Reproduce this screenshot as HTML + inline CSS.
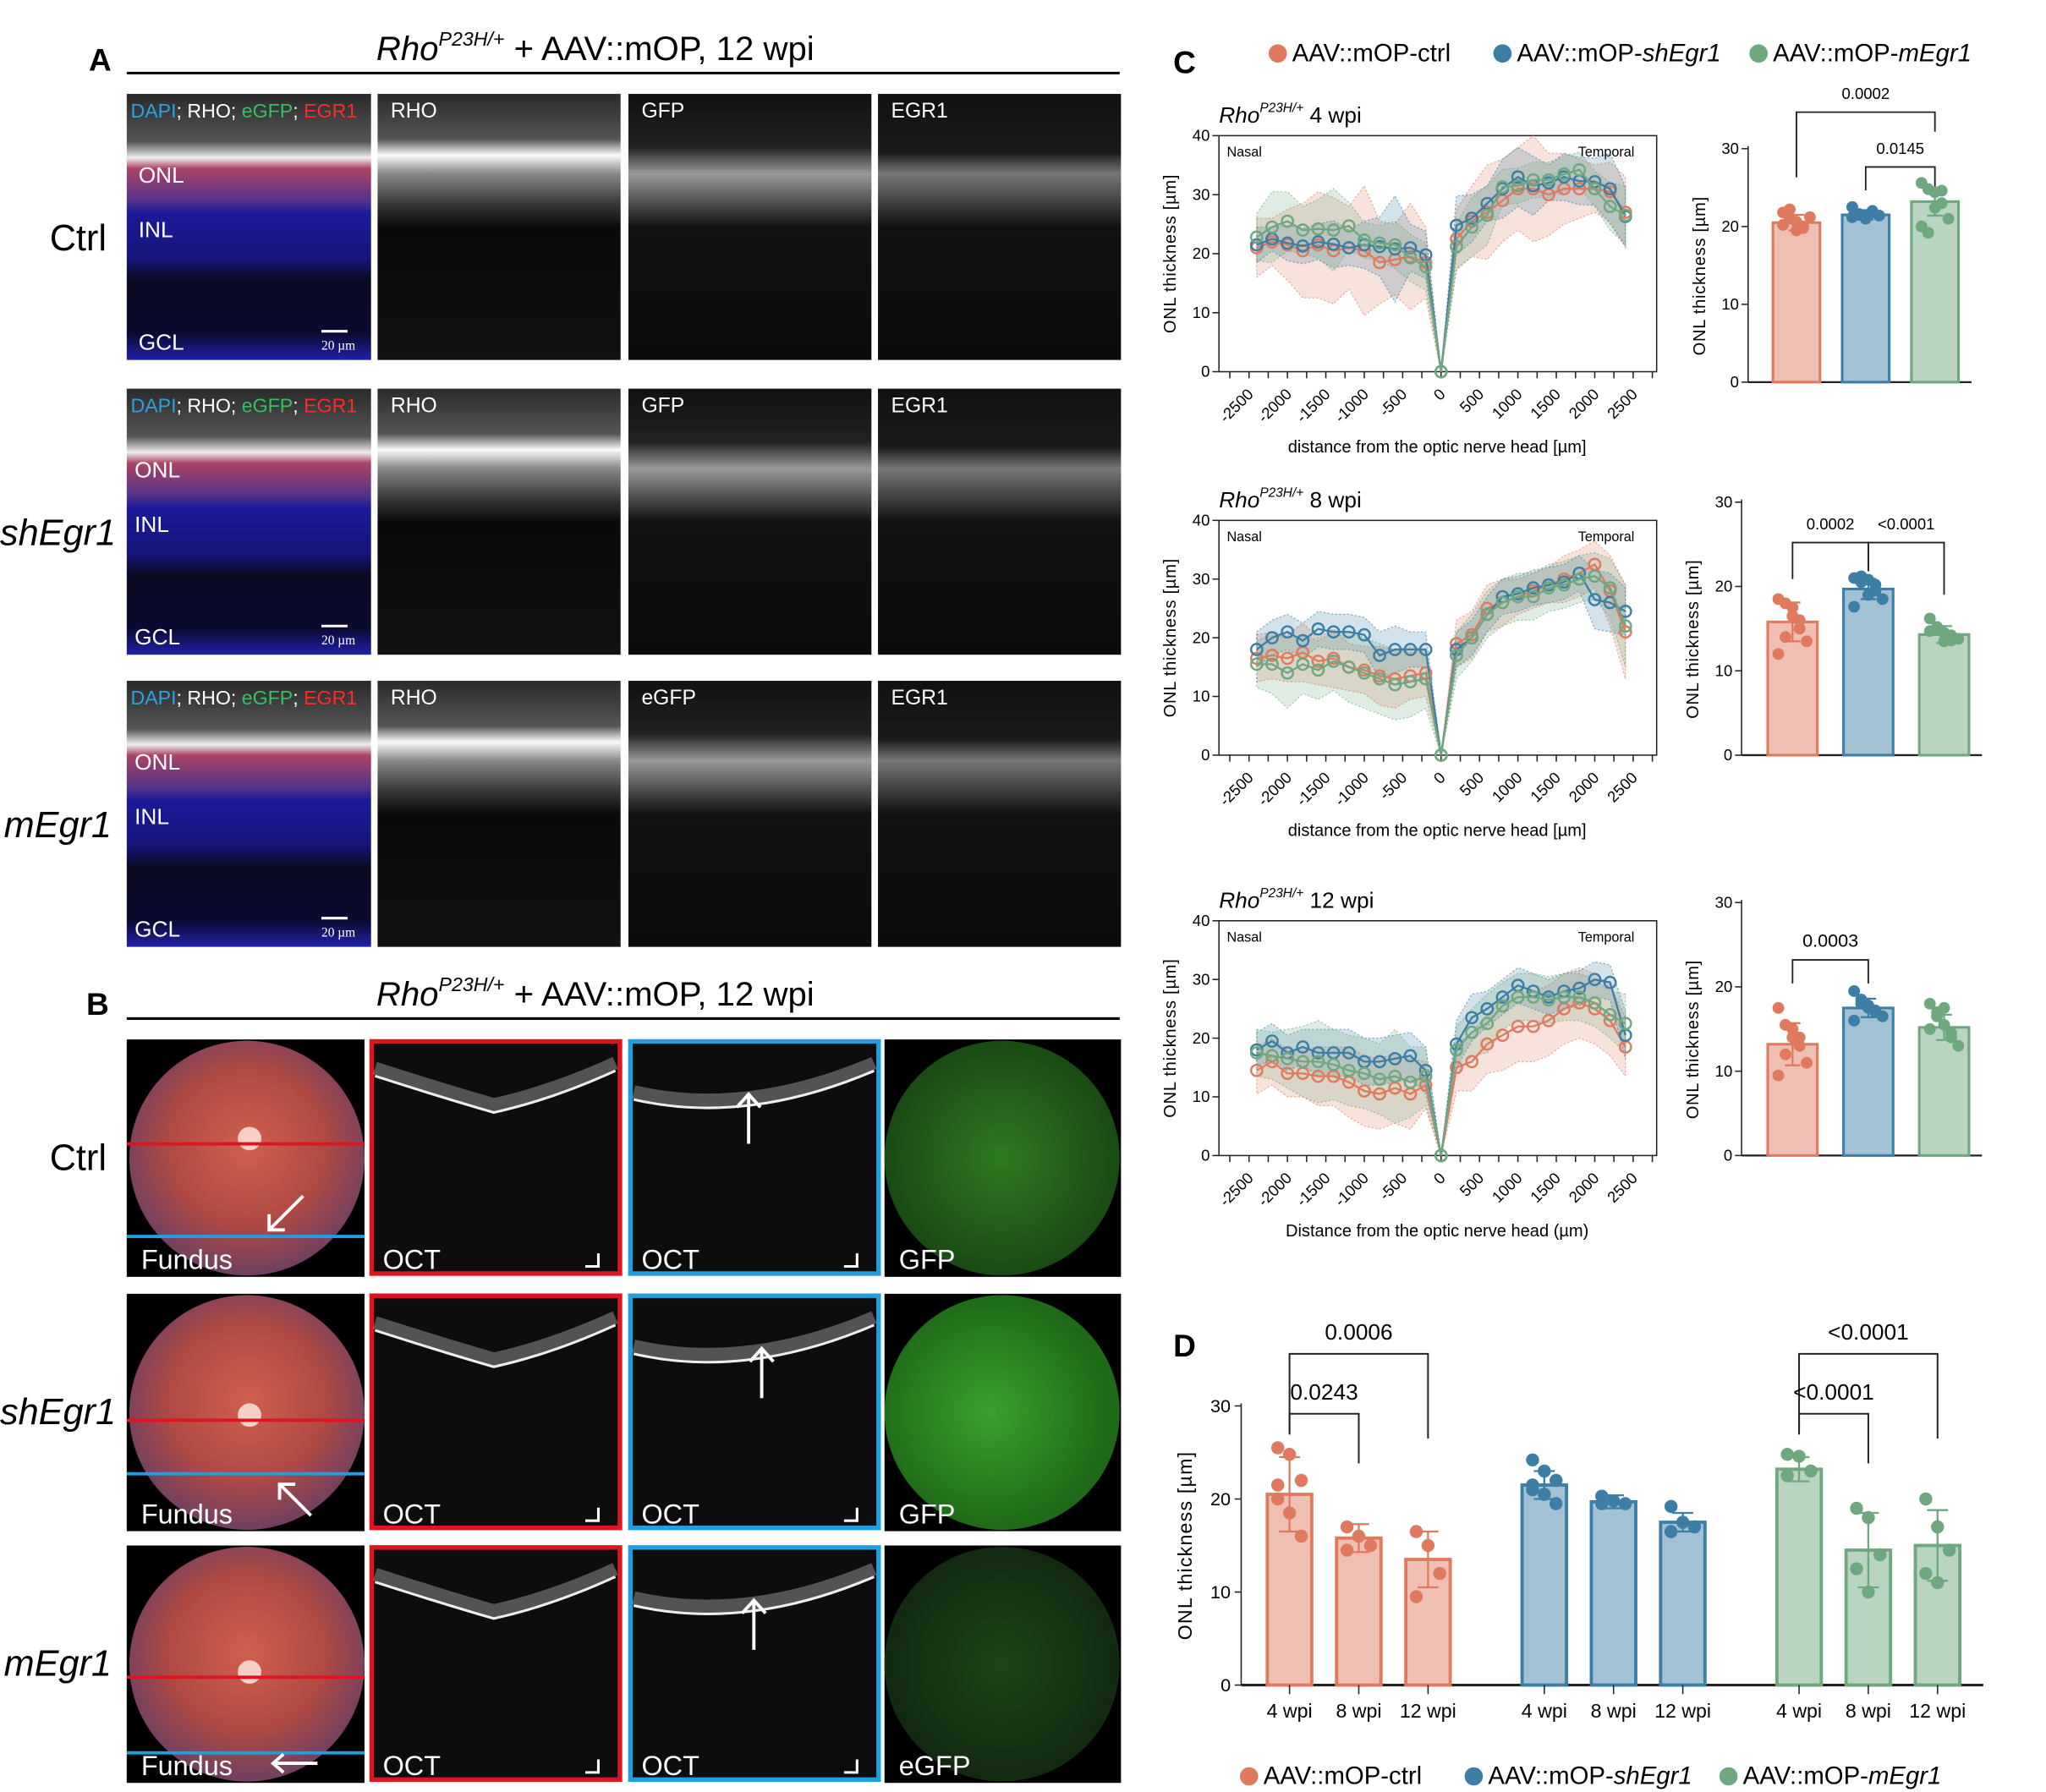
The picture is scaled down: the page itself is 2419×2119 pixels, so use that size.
<!DOCTYPE html>
<html><head><meta charset="utf-8"><style>
html,body{margin:0;padding:0;background:#fff;}
svg{display:block;font-family:"Liberation Sans",sans-serif;}
</style></head><body>
<svg id="fig" width="2419" height="2119" viewBox="0 0 1566 1374" preserveAspectRatio="none" xmlns="http://www.w3.org/2000/svg">
<defs>
<radialGradient id="fund" cx="0.5" cy="0.45" r="0.55"><stop offset="0" stop-color="#d0604e"/><stop offset="0.6" stop-color="#b04a44"/><stop offset="1" stop-color="#704060"/></radialGradient>
<radialGradient id="gfp1" cx="0.5" cy="0.5" r="0.5"><stop offset="0" stop-color="#2f7a22"/><stop offset="1" stop-color="#1a4a14"/></radialGradient>
<radialGradient id="gfp2" cx="0.45" cy="0.5" r="0.5"><stop offset="0" stop-color="#3aa02e"/><stop offset="1" stop-color="#1f6a18"/></radialGradient>
<radialGradient id="gfp3" cx="0.5" cy="0.5" r="0.5"><stop offset="0" stop-color="#1e4418"/><stop offset="1" stop-color="#122a10"/></radialGradient>
<linearGradient id="comp" x1="0" y1="0" x2="0" y2="1"><stop offset="0" stop-color="#2a2a2a"/><stop offset="0.18" stop-color="#555"/><stop offset="0.24" stop-color="#eee"/><stop offset="0.28" stop-color="#aa4466"/><stop offset="0.4" stop-color="#553388"/><stop offset="0.45" stop-color="#1a1a99"/><stop offset="0.62" stop-color="#15157a"/><stop offset="0.7" stop-color="#0a0a22"/><stop offset="0.9" stop-color="#0a0a30"/><stop offset="1" stop-color="#2020aa"/></linearGradient>
<linearGradient id="rho" x1="0" y1="0" x2="0" y2="1"><stop offset="0" stop-color="#2a2a2a"/><stop offset="0.17" stop-color="#555"/><stop offset="0.23" stop-color="#fafafa"/><stop offset="0.3" stop-color="#888"/><stop offset="0.42" stop-color="#333"/><stop offset="0.5" stop-color="#0a0a0a"/><stop offset="1" stop-color="#111"/></linearGradient>
<linearGradient id="gfpA" x1="0" y1="0" x2="0" y2="1"><stop offset="0" stop-color="#111"/><stop offset="0.2" stop-color="#222"/><stop offset="0.3" stop-color="#999"/><stop offset="0.4" stop-color="#555"/><stop offset="0.5" stop-color="#111"/><stop offset="1" stop-color="#0c0c0c"/></linearGradient>
<linearGradient id="egr" x1="0" y1="0" x2="0" y2="1"><stop offset="0" stop-color="#111"/><stop offset="0.22" stop-color="#1a1a1a"/><stop offset="0.3" stop-color="#777"/><stop offset="0.4" stop-color="#444"/><stop offset="0.5" stop-color="#111"/><stop offset="1" stop-color="#0c0c0c"/></linearGradient>
</defs>
<g id="panelA"></g>
<g id="panelB"></g>
<g id="panelC"></g>
<g id="panelD"></g>
</svg>
<script>
// ---------- DATA ----------
const xPositions = [-2400,-2200,-2000,-1800,-1600,-1400,-1200,-1000,-800,-600,-400,-200,0,200,400,600,800,1000,1200,1400,1600,1800,2000,2200,2400];
const xTickLabels = [-2500,-2000,-1500,-1000,-500,0,500,1000,1500,2000,2500];
const yTickLine = [0,10,20,30,40];
const yTickBar = [0,10,20,30];
// 4 wpi
const ctrl4 = [21,22,21.5,20.5,21.5,20.5,21,20.5,18.5,19,19.5,18.5,0,22.5,25.5,27,29,31,31,30,31,31,31,30.5,27];
const sh4 = [21.5,22.5,21.8,21.3,22,21.6,21,21.5,21.2,20.8,21,19.8,0,24.8,26,28.5,31,33,31.5,32,33,32.3,32.2,31,26.3];
const m4 = [22.8,24.5,25.5,24,24.2,24,24.7,22.3,21.8,21.5,19.3,17.8,0,21.2,24.5,26.5,31.3,31.5,32.5,32.5,33.5,34.2,31,28,26.5];
const ctrl4sd = [5,4,6,8,9,9,7,11,7,6,9,6,0,5,6,8,7,7,9,7,6,5,4,5,6];
const sh4sd = [3,2,3,3,3,4,3,4,5,9,4,4,0,5,4,3,5,5,5,3,4,4,4,6,5];
const m4sd = [4,6,5,4,5,7,4,3,3,4,4,4,0,4,5,5,3,3,3,3,3,3,3,4,5];
// 8 wpi
const ctrl8 = [16.5,17,16.5,17.5,16,16.5,15,14.5,13.5,13,13.5,14,0,19,20.5,25,26,27,28,29,30,31,32.5,28,21];
const sh8 = [18,20,21,19.5,21.5,21,21,20.5,17,18,18,18,0,18,20,24,27,27.5,28.5,29,29.5,31,26.5,26,24.5];
const m8 = [15.5,15.5,14,15.5,14.5,16,15,14,13,12,12.5,13,0,17,20,24,26,27,27,28.5,29,30,30.5,28.5,22];
const ctrl8sd = [4,4,4,5,4,5,4,4,5,5,4,4,0,4,4,4,4,3,3,3,4,4,4,6,8];
const sh8sd = [3,3,3,3,3,3,3,3,4,4,3,3,0,3,3,3,3,3,3,3,3,3,5,5,4];
const m8sd = [4,5,6,5,5,5,6,6,6,6,6,5,0,4,4,4,4,4,4,4,4,4,4,5,7];
// 12 wpi
const ctrl12 = [14.5,16,14,14,13.5,13.5,12.5,11,10.5,11.5,10.5,12,0,15,16,19,20.5,22,22,23,25,26,25,23,18.5];
const sh12 = [18,19.5,17.5,18.5,17.5,17.5,17.5,16,16,16.5,17,14.5,0,19,23.5,25,27,29,28,27,28,28.5,30,29.5,20.5];
const m12 = [17.5,17,16.5,16,16,15.5,14.5,14,13,13.5,12.5,13.5,0,18,21,22.5,25.5,27,27,26.5,27,27,26,24,22.5];
const ctrl12sd = [4,4,4,4,5,5,6,6,6,6,6,4,0,4,5,5,6,6,6,6,6,6,6,6,5];
const sh12sd = [3,3,3,3,4,4,4,4,4,4,4,4,0,4,4,3,3,3,3,3,3,3,3,3,4];
const m12sd = [4,4,5,6,7,6,6,6,6,8,6,5,0,4,4,5,4,4,4,4,4,4,4,4,5];
// bar means
const bar4 = [20.5,21.5,23.2];
const bar8 = [15.8,19.7,14.3];
const bar12 = [13.2,17.5,15.2];
const dots4 = [[20.2,21,19.5,19.8,21.2,21.8,22.2,20.6,20],[22.5,21.5,21.3,22,21.4,21.2,21.6,21,21.8],[25.6,24.8,24.4,23,21,20,19.2,22.4,24.6]];
const dots8 = [[18.5,18,16.5,15,13.5,12,14,17.5,16],[21,20.5,20.8,19.5,18.5,17.6,21.2,19,20.2],[16.2,15,14.5,13.6,13.8,14.7,15.2,13.5,14.2]];
const dots12 = [[17.5,15.5,14,13,11,9.5,12,15,14],[19.5,18.5,17.5,17,16.5,16,18,17.8,17.2],[18,17,15.5,14,13,15,16.5,17.5,14.5]];
const sd4 = [1,0.6,1.8];
const sd8 = [2.3,1.2,1];
const sd12 = [2.5,1.1,1.5];
// panel D
const dGroups = ['4 wpi','8 wpi','12 wpi'];
const dCtrl = [20.5,15.8,13.5];
const dSh = [21.5,19.7,17.5];
const dM = [23.2,14.5,15];
const dCtrlSd = [4,1.5,3];
const dShSd = [1.5,0.7,1];
const dMSd = [1.3,4,3.8];
const dCtrlDots = [[25.5,24.8,22,20,18.5,16,21.5],[17,16,15,14.5],[16.5,15,12,9.5]];
const dShDots = [[24.2,23,22,21.5,20.5,19.5,21],[20.3,19.8,19.5,19.5],[19.2,17.5,17,16.5]];
const dMDots = [[24.8,24.6,23,22.5],[19,18,14,12.5,10],[20,17,14.5,12,11]];

const COL = {ctrl:'#e07a5f', sh:'#3d7ea6', m:'#6fa77f'};
const FILL = {ctrl:'#efbfb3', sh:'#a3c1d4', m:'#b9d5c0'};
const NS = 'http://www.w3.org/2000/svg';
function mk(tag, attrs, parent){const e=document.createElementNS(NS,tag);for(const k in attrs)e.setAttribute(k,attrs[k]);parent.appendChild(e);return e;}
function txt(parent,x,y,s,size,opts){const e=mk('text',Object.assign({x:x,y:y,'font-size':size},opts||{}),parent);e.textContent=s;return e;}

// ---------- PANEL A ----------
const A = document.getElementById('panelA');
let t = txt(A,68,54,'A',24,{'font-weight':'bold'});


t = mk('text',{x:288,y:46,'font-size':26},A);
t.innerHTML='<tspan font-style="italic">Rho</tspan><tspan font-style="italic" font-size="15" dy="-11">P23H/+</tspan><tspan dy="11"> + AAV::mOP, 12 wpi</tspan>';


let ln = mk('line',{x1:97,x2:857,y1:56,y2:56,stroke:'#000','stroke-width':2},A);


const rowsA = [72,298,522];
const rowNames = ['Ctrl','shEgr1','mEgr1'];
const colsA = [[97,187],[289,186],[481,186],[672,186]];
const heads = [['RHO','GFP','EGR1'],['RHO','GFP','EGR1'],['RHO','eGFP','EGR1']];
const grads = ['comp','rho','gfpA','egr'];
rowsA.forEach((y,ri)=>{
  const lbl = txt(A,ri===0?38:(ri===1?0:3),y+120,rowNames[ri],28,{'font-style':ri===0?'normal':'italic'});
  
  
  colsA.forEach((c,ci)=>{
    const r = mk('rect',{x:c[0],y:y,width:c[1],height:204,fill:'url(#'+grads[ci]+')'},A);
    
    
    if(ci>0){
      const h = txt(A,c[0]+10,y+18,heads[ri][ci-1],16,{fill:'#fff'});
      
      
    }
  });
  const cl = mk('text',{x:100,y:y+18,'font-size':15},A);
  cl.innerHTML='<tspan fill="#29a3e0">DAPI</tspan><tspan fill="#fff">; RHO; </tspan><tspan fill="#33c060">eGFP</tspan><tspan fill="#fff">; </tspan><tspan fill="#ff2a2a">EGR1</tspan>';
  
  
  [['ONL',68],['INL',110],['GCL',196]].forEach(l=>{
    const e = txt(A,ri===0?106:103,y+l[1],l[0],17,{fill:'#fff'});
    
    
  });
  const sb = mk('line',{x1:246,x2:266,y1:y+182,y2:y+182,stroke:'#fff','stroke-width':2},A);
  
  
  const st = txt(A,246,y+196,'20 µm',10,{fill:'#fff','font-family':'Liberation Serif'});
  
  
});

// ---------- PANEL B ----------
const B = document.getElementById('panelB');
t = txt(B,66,778,'B',24,{'font-weight':'bold'});


t = mk('text',{x:288,y:771,'font-size':26},B);
t.innerHTML='<tspan font-style="italic">Rho</tspan><tspan font-style="italic" font-size="15" dy="-11">P23H/+</tspan><tspan dy="11"> + AAV::mOP, 12 wpi</tspan>';


ln = mk('line',{x1:97,x2:857,y1:781,y2:781,stroke:'#000','stroke-width':2},B);


const rowsB = [797,992,1185];
const redL = [877,1089,1286];
const blueL = [948,1130,1344];
const gfpL = ['GFP','GFP','eGFP'];
rowsB.forEach((y,ri)=>{
  const lbl = txt(B,ri===0?38:(ri===1?0:3),y+100,rowNames[ri],28,{'font-style':ri===0?'normal':'italic'});
  
  
  let e = mk('rect',{x:97,y:y,width:182,height:182,fill:'#000'},B);
  
  
  e = mk('circle',{cx:189,cy:y+91,r:90,fill:'url(#fund)'},B);
  
  
  e = mk('circle',{cx:191,cy:redL[ri]-4,r:9,fill:'#f6d0c8'},B);
  
  
  e = mk('line',{x1:97,x2:279,y1:redL[ri],y2:redL[ri],stroke:'#e0141e','stroke-width':2.5},B);
  
  
  e = mk('line',{x1:97,x2:279,y1:blueL[ri],y2:blueL[ri],stroke:'#1ea0e0','stroke-width':2.5},B);
  
  
  e = mk('path',{d:ri===2?`M243 ${y+167} h-34 m8 -7 l-8 7 l8 7`:(ri===0?`M232 ${y+120} l-26 26 m0 -12 v12 h12`:`M238 ${y+170} l-24 -24 m0 12 v-12 h12`),stroke:'#fff','stroke-width':2.5,fill:'none'},B);
  
  
  e = txt(B,108,y+176,'Fundus',21,{fill:'#fff'});
  
  
  [[283,'#e0141e'],[481,'#1ea0e0']].forEach((o,oi)=>{
    let r = mk('rect',{x:o[0]+1.5,y:y+1.5,width:190,height:178,fill:'#0d0d0d',stroke:o[1],'stroke-width':3.5},B);
    
    
    const p = oi===0?`M${o[0]+4} ${y+22} Q${o[0]+60} ${y+40} ${o[0]+95} ${y+50} Q${o[0]+140} ${y+40} ${o[0]+188} ${y+18}`:`M${o[0]+4} ${y+40} Q${o[0]+90} ${y+60} ${o[0]+188} ${y+18}`;
    let b = mk('path',{d:p,stroke:'#999','stroke-width':10,fill:'none',opacity:0.5},B);
    
    
    b = mk('path',{d:p,stroke:'#eee','stroke-width':2,fill:'none',transform:'translate(0,6)'},B);
    
    
    if(oi===1){
      const ax = ri===0?573:(ri===1?583:577);
      b = mk('path',{d:`M${ax} ${y+80} v-38 m-9 10 l9 -10 l9 10`,stroke:'#fff','stroke-width':2.5,fill:'none'},B);
      
      
    }
    b = txt(B,o[0]+10,y+176,'OCT',21,{fill:'#fff'});
    
    
    b = mk('path',{d:`M${o[0]+175} ${y+164} v10 h-10`,stroke:'#fff','stroke-width':2,fill:'none'},B);
    
    
  });
  e = mk('rect',{x:677,y:y,width:181,height:182,fill:'#000'},B);
  
  
  e = mk('circle',{cx:767,cy:y+91,r:90,fill:'url(#gfp'+(ri+1)+')'},B);
  
  
  e = txt(B,688,y+176,gfpL[ri],21,{fill:'#fff'});
  
  
});

// ---------- PANEL C ----------
const C = document.getElementById('panelC');
t = txt(C,898,56,'C',24,{'font-weight':'bold'});


function legend(parent,y,xs){
  const names=[['ctrl','AAV::mOP-','ctrl',false],['sh','AAV::mOP-','shEgr1',true],['m','AAV::mOP-','mEgr1',true]];
  names.forEach((n,i)=>{
    const c = mk('circle',{cx:xs[i],cy:y-6,r:7,fill:COL[n[0]]},parent);
    
    
    const tt = mk('text',{x:xs[i]+11,y:y,'font-size':19},parent);
    tt.innerHTML=n[1]+'<tspan font-style="'+(n[3]?'italic':'normal')+'">'+n[2]+'</tspan>';
    
    
  });
}
legend(C,47,[978,1150,1346]);

function lineChart(g,top,bot,title,series,xtitle){
  const L=933,R=1268;
  const xs=v=>956+(v+2500)*(1250-956)/5000;
  const ys=v=>bot-(v/40)*(bot-top);
  let e = mk('rect',{x:L,y:top,width:R-L,height:bot-top,fill:'none',stroke:'#222','stroke-width':1},g);
  
  
  e = mk('text',{x:933,y:top-10,'font-size':17},g);
  e.innerHTML='<tspan font-style="italic">Rho</tspan><tspan font-style="italic" font-size="10" dy="-8">P23H/+</tspan><tspan dy="8"> '+title+'</tspan>';
  
  
  e = txt(g,939,top+16,'Nasal',10.5);
  
  
  e = txt(g,1251,top+16,'Temporal',10.5,{'text-anchor':'end'});
  
  
  yTickLine.forEach(v=>{
    const tk=mk('line',{x1:L-5,x2:L,y1:ys(v),y2:ys(v),stroke:'#222'},g);
    
    
    const tl=txt(g,L-7,ys(v)+4,String(v),12,{'text-anchor':'end'});
    
    
  });
  for(let v=-2750;v<=2750;v+=250){
    const tk=mk('line',{x1:xs(v),x2:xs(v),y1:bot,y2:bot+5,stroke:'#222'},g);
    
    
  }
  xTickLabels.forEach(v=>{
    const tl=txt(g,xs(v)+4,bot+18,String(v),12,{'text-anchor':'end',transform:`rotate(-45 ${xs(v)+4} ${bot+18})`});
    
    
  });
  e = txt(g,0,0,'ONL thickness [µm]',13,{'text-anchor':'middle',transform:`translate(900 ${(top+bot)/2}) rotate(-90)`,'letter-spacing':'0.5'});
  
  
  e = txt(g,1100,bot+62,xtitle,13,{'text-anchor':'middle'});
  
  
  series.forEach(s=>{
    const up=xPositions.map((x,i)=>xs(x)+','+ys(s.v[i]+s.sd[i]));
    const dn=xPositions.map((x,i)=>xs(x)+','+ys(Math.max(0,s.v[i]-s.sd[i]))).reverse();
    const band=mk('polygon',{points:up.concat(dn).join(' '),fill:COL[s.k],'fill-opacity':0.22,stroke:COL[s.k],'stroke-opacity':0.6,'stroke-dasharray':'1.5 1.5','stroke-width':0.8},g);
    
    
  });
  series.forEach(s=>{
    const pl=mk('polyline',{points:xPositions.map((x,i)=>xs(x)+','+ys(s.v[i])).join(' '),fill:'none',stroke:COL[s.k],'stroke-width':1.5},g);
    
    
    xPositions.forEach((x,i)=>{
      const c=mk('circle',{cx:xs(x),cy:ys(s.v[i]),r:4.3,fill:'none',stroke:COL[s.k],'stroke-width':1.6},g);
      
      
    });
  });
}
function barChart(g,axX,y0,y30,centers,w,means,dots,sds,brackets){
  const ys=v=>y0-(v/30)*(y0-y30);
  const keys=['ctrl','sh','m'];
  let e=mk('line',{x1:axX,x2:axX,y1:y30-2,y2:y0,stroke:'#222'},g);
  
  
  e=mk('line',{x1:axX,x2:centers[2]+w/2+10,y1:y0,y2:y0,stroke:'#222','stroke-width':1.5},g);
  
  
  yTickBar.forEach(v=>{
    const tk=mk('line',{x1:axX-5,x2:axX,y1:ys(v),y2:ys(v),stroke:'#222'},g);
    
    
    const tl=txt(g,axX-7,ys(v)+4,String(v),12,{'text-anchor':'end'});
    
    
  });
  e=txt(g,0,0,'ONL thickness [µm]',13,{'text-anchor':'middle',transform:`translate(${axX-33} ${(y0+y30)/2+8}) rotate(-90)`,'letter-spacing':'0.5'});
  
  
  means.forEach((m,i)=>{
    const k=keys[i];
    const r=mk('rect',{x:centers[i]-w/2,y:ys(m),width:w,height:y0-ys(m),fill:FILL[k],stroke:COL[k],'stroke-width':2},g);
    
    
    const eb=mk('path',{d:`M${centers[i]} ${ys(m+sds[i])} V${ys(m-sds[i])} M${centers[i]-6} ${ys(m+sds[i])} h12 M${centers[i]-6} ${ys(m-sds[i])} h12`,stroke:COL[k],'stroke-width':1.5,fill:'none'},g);
    
    
    dots[i].forEach((d,j)=>{
      const c=mk('circle',{cx:centers[i]+((j%5)-2)*(w/7),cy:ys(d),r:4.5,fill:COL[k]},g);
      
      
    });
  });
  brackets.forEach(b=>{
    const p=mk('path',{d:`M${centers[b[0]]} ${b[2]+b[3]} V${b[2]} H${centers[b[1]]} V${b[2]+b[4]}`,stroke:'#222','stroke-width':1.2,fill:'none'},g);
    
    
    const tl=txt(g,(centers[b[0]]+centers[b[1]])/2,b[2]-10,b[5],b[6]||12,{'text-anchor':'middle'});
    
    
  });
}
const g1=mk('g',{},C);


lineChart(g1,104,285,'4 wpi',[{k:'ctrl',v:ctrl4,sd:ctrl4sd},{k:'sh',v:sh4,sd:sh4sd},{k:'m',v:m4,sd:m4sd}],'distance from the optic nerve head [µm]');
const g2=mk('g',{},C);


lineChart(g2,399,579,'8 wpi',[{k:'ctrl',v:ctrl8,sd:ctrl8sd},{k:'sh',v:sh8,sd:sh8sd},{k:'m',v:m8,sd:m8sd}],'distance from the optic nerve head [µm]');
const g3=mk('g',{},C);


lineChart(g3,706,886,'12 wpi',[{k:'ctrl',v:ctrl12,sd:ctrl12sd},{k:'sh',v:sh12,sd:sh12sd},{k:'m',v:m12,sd:m12sd}],'Distance from the optic nerve head (µm)');
const b1=mk('g',{},C);


barChart(b1,1338,293,114,[1375,1428,1481],36,bar4,dots4,sd4,[[0,2,86,50,15,'0.0002'],[1,2,128,18,15,'0.0145']]);
const b2=mk('g',{},C);


barChart(b2,1333,579,385,[1372,1430,1488],38,bar8,dots8,sd8,[[0,1,416,28,22,'0.0002'],[1,2,416,22,40,'<0.0001']]);
const b3=mk('g',{},C);


barChart(b3,1333,886,692,[1372,1430,1488],38,bar12,dots12,sd12,[[0,1,736,18,18,'0.0003',14]]);

// ---------- PANEL D ----------
const D=document.getElementById('panelD');
t=txt(D,898,1040,'D',24,{'font-weight':'bold'});


(function(){
  const axX=950,y0=1292,y30=1078,w=34;
  const ys=v=>y0-(v/30)*(y0-y30);
  const groupCenters=[[987,1040,1093],[1182,1235,1288],[1377,1430,1483]];
  const sets=[['ctrl',dCtrl,dCtrlSd,dCtrlDots],['sh',dSh,dShSd,dShDots],['m',dM,dMSd,dMDots]];
  let e=mk('line',{x1:axX,x2:axX,y1:y30-2,y2:y0,stroke:'#222'},D);
  
  
  e=mk('line',{x1:axX,x2:1518,y1:y0,y2:y0,stroke:'#222','stroke-width':2},D);
  
  
  yTickBar.forEach(v=>{
    const tk=mk('line',{x1:axX-5,x2:axX,y1:ys(v),y2:ys(v),stroke:'#222'},D);
    
    
    const tl=txt(D,axX-8,ys(v)+5,String(v),14,{'text-anchor':'end'});
    
    
  });
  e=txt(D,0,0,'ONL thickness [µm]',15,{'text-anchor':'middle',transform:`translate(912 1185) rotate(-90)`,'letter-spacing':'0.8'});
  
  
  sets.forEach((s,si)=>{
    const k=s[0];
    s[1].forEach((m,i)=>{
      const cx=groupCenters[si][i];
      const r=mk('rect',{x:cx-w/2,y:ys(m),width:w,height:y0-ys(m),fill:FILL[k],stroke:COL[k],'stroke-width':2.5},D);
      
      
      const sd=s[2][i];
      const eb=mk('path',{d:`M${cx} ${ys(m+sd)} V${ys(m-sd)} M${cx-8} ${ys(m+sd)} h16 M${cx-8} ${ys(m-sd)} h16`,stroke:COL[k],'stroke-width':1.5,fill:'none'},D);
      
      
      s[3][i].forEach((d,j)=>{
        const c=mk('circle',{cx:cx+((j%3)-1)*9,cy:ys(d),r:5,fill:COL[k]},D);
        
        
      });
      const tk=mk('line',{x1:cx,x2:cx,y1:y0,y2:y0+7,stroke:'#222'},D);
      
      
      const tl=txt(D,cx,y0+25,dGroups[i],15,{'text-anchor':'middle'});
      
      
    });
  });
  [[987,1093,1038,60,'0.0006'],[987,1040,1084,16,'0.0243'],[1377,1483,1038,60,'<0.0001'],[1377,1430,1084,16,'<0.0001']].forEach(b=>{
    const p=mk('path',{d:`M${b[0]} ${b[2]+b[3]} V${b[2]} H${b[1]} V${b[2]+(b[3]===60?65:38)}`,stroke:'#222','stroke-width':1.3,fill:'none'},D);
    
    
    const tl=txt(D,(b[0]+b[1])/2,b[2]-11,b[4],17,{'text-anchor':'middle'});
    
    
  });
  legend(D,1368,[956,1128,1323]);
})();
</script>
</body></html>
